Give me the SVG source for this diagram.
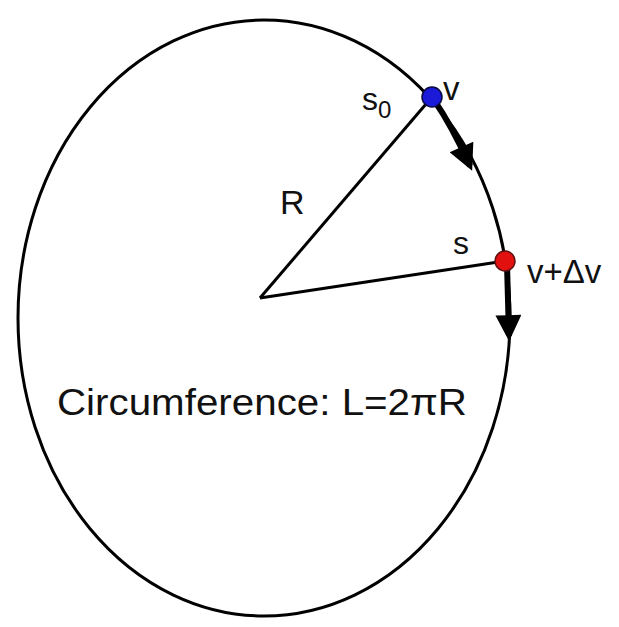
<svg xmlns="http://www.w3.org/2000/svg" width="619" height="627" viewBox="0 0 619 627">
<style>
.t{font-family:"Liberation Sans","DejaVu Sans",sans-serif;fill:#111}
.ln{stroke:#000;stroke-width:3;fill:none}
.thick{stroke:#000;stroke-width:6;fill:none}
</style>
<defs>
<marker id="ah" viewBox="0 0 10 10" refX="8" refY="5" markerWidth="30" markerHeight="26" orient="auto" markerUnits="userSpaceOnUse">
<path d="M0,0 L10,5 L0,10 z" fill="#000"/>
</marker>
</defs>
<rect width="619" height="627" fill="#fff"/>
<g id="circle"><ellipse cx="264" cy="318" rx="246" ry="298" class="ln"/></g>
<g id="connectors">
<line x1="260" y1="298" x2="432" y2="97" class="ln"/>
<line x1="260" y1="298" x2="505" y2="261" class="ln"/>
<path d="M434,100 Q452,126 470,166" class="thick" marker-end="url(#ah)"/>
<path d="M507,264 L509,336" class="thick" marker-end="url(#ah)"/>
</g>
<g id="p0"><circle cx="432" cy="97" r="10" fill="#1a1ad8" stroke="#0a0a40" stroke-width="1.5"/></g>
<g id="p1"><circle cx="505" cy="261" r="10" fill="#e31010" stroke="#601010" stroke-width="1.5"/></g>
<g id="labels">
<text class="t" x="362" y="110" font-size="32">s<tspan font-size="24" dy="8">0</tspan></text>
<text class="t" x="443" y="100" font-size="33">v</text>
<text class="t" x="280" y="214" font-size="34">R</text>
<text class="t" x="453" y="254" font-size="32">s</text>
<text class="t" x="527" y="283" font-size="33">v+Δv</text>
<text class="t" x="57" y="415" font-size="36" textLength="410" lengthAdjust="spacingAndGlyphs">Circumference: L=2πR</text>
</g>
</svg>
